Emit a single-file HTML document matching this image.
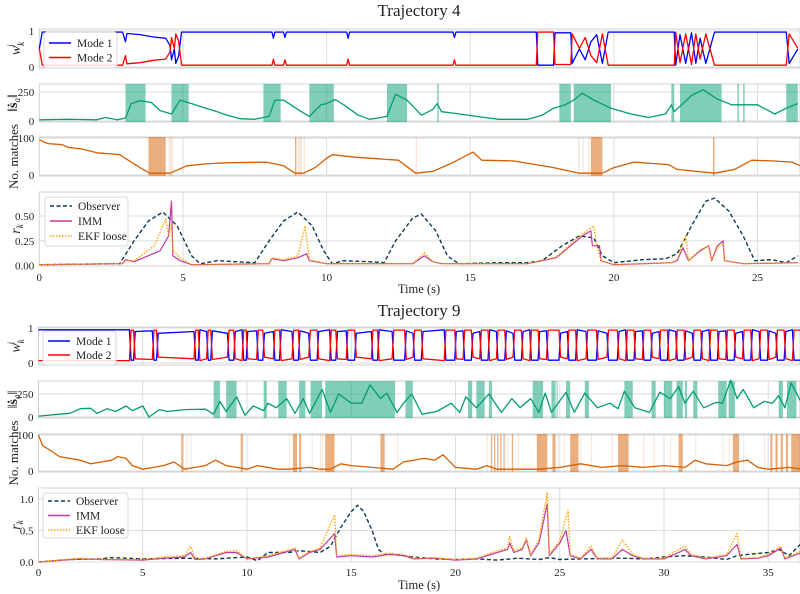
<!DOCTYPE html>
<html><head><meta charset="utf-8"><style>
html,body{margin:0;padding:0;background:#fff;}
svg{display:block;font-family:"Liberation Serif",serif;}
</style></head><body>
<svg id="fig" width="800" height="594" viewBox="0 0 800 594"></svg>
<script>
// ---------- Trajectory 4 data ----------
const t4W1T=[0,0.1,2.9,3.0,3.05,3.5,4.0,4.4,4.55,4.6,4.7,4.75,4.85,4.95,8.1,8.15,8.2,8.5,8.55,8.6,10.7,10.75,10.8,14.4,14.45,14.5,17.3,17.35,17.9,17.95,18.5,18.55,18.8,19.0,19.2,19.4,19.6,19.8,22.1,22.15,22.3,22.5,22.7,22.85,23.0,23.2,23.5,26.0,26.1,26.4];
const t4W1V=[0.5,0.97,0.97,0.7,0.93,0.9,0.83,0.8,0.6,0.2,0.5,0.1,0.3,0.97,0.97,0.8,0.97,0.97,0.82,0.97,0.97,0.8,0.97,0.97,0.82,0.97,0.97,0.05,0.05,0.95,0.95,0.1,0.5,0.2,0.7,0.9,0.1,0.97,0.97,0.05,0.9,0.1,0.95,0.1,0.8,0.1,0.97,0.97,0.1,0.5];
const t4ST=[0,1,2,2.3,2.7,3.0,3.2,3.5,3.9,4.2,4.6,4.9,5.3,5.8,6.2,6.4,7.0,7.5,8.0,8.2,8.5,9.0,9.4,9.8,10.0,10.3,10.6,11.1,11.5,12.1,12.4,12.8,13.3,13.7,13.85,14.0,14.5,15.5,16.0,17.0,17.5,17.9,18.3,18.6,18.9,19.3,19.9,20.6,21.2,21.8,22.0,22.1,22.7,23.1,23.6,24.1,25.0,25.6,26.0,26.4];
const t4SV=[10,15,10,30,10,25,150,175,160,90,60,180,150,110,80,60,20,15,40,180,180,100,40,140,150,185,140,50,15,40,230,180,50,100,150,80,65,30,15,15,50,110,140,180,240,180,110,60,30,60,140,80,220,270,190,140,140,60,110,150];
const t4GreenS=[3.0,4.6,7.8,9.4,12.1,13.85,18.1,18.6,22.0,22.3,24.3,24.5,26.0];
const t4GreenE=[3.7,5.2,8.4,10.25,12.8,13.9,18.5,19.9,22.1,23.75,24.35,24.55,26.4];
const t4MT=[0,0.3,0.8,1,1.5,2,2.5,2.8,3.2,3.5,3.85,4.55,5.13,5.8,6.5,7.9,8.5,8.9,9.2,9.6,10,10.2,11,12.5,13.1,13.7,14.3,15.1,15.4,16.5,17.9,18.8,19.6,20.0,20.7,21.9,22.2,23.5,24.2,24.8,25.5,26.2,26.5];
const t4MV=[95,85,82,75,70,60,57,55,35,20,5,5,25,30,33,35,25,5,5,20,45,55,48,40,5,10,30,62,40,38,20,5,5,20,35,28,15,5,15,40,38,35,25];
const t4DarkS=[3.8,8.9,19.2,23.45];
const t4DarkE=[4.4,8.95,19.6,23.5];
const t4LightT=[4.5,4.55,4.6,9.0,9.05,9.1,9.2,13.1,18.75,18.9,19.1];
const t4ObsT=[0,2.8,3.3,3.8,4.3,4.8,5.3,5.6,6.2,6.8,7.5,8.0,8.5,9.0,9.5,9.9,10.2,10.6,11.5,12.0,12.4,13.0,13.3,13.8,14.2,14.6,16,17,17.5,18.2,18.8,19.3,19.6,20,21,21.8,22.2,22.7,23.2,23.5,24,24.5,24.9,25.5,26,26.4];
const t4ObsV=[0.01,0.02,0.25,0.45,0.54,0.4,0.1,0.02,0.05,0.04,0.03,0.25,0.45,0.54,0.4,0.15,0.02,0.05,0.04,0.03,0.25,0.48,0.52,0.35,0.1,0.02,0.03,0.03,0.05,0.2,0.3,0.28,0.1,0.03,0.06,0.07,0.12,0.4,0.65,0.68,0.55,0.3,0.05,0.06,0.03,0.1];
const t4ImmT=[0,2.9,3.0,3.3,4.2,4.5,4.6,4.65,4.9,5.3,8,8.1,8.5,9.0,9.3,9.4,10,13.0,13.4,13.7,14,17,18,18.9,19.2,19.25,19.5,19.55,20,22,22.2,22.4,22.6,23.0,23.3,23.4,23.6,23.8,23.85,24.5,26.4];
const t4ImmV=[0.01,0.02,0.06,0.04,0.15,0.3,0.65,0.1,0.05,0.01,0.02,0.07,0.05,0.08,0.12,0.05,0.02,0.02,0.1,0.04,0.02,0.02,0.08,0.3,0.35,0.2,0.2,0.05,0.01,0.03,0.05,0.18,0.05,0.15,0.2,0.05,0.2,0.25,0.05,0.02,0.03];
const t4EkfT=[0,2.9,3.0,3.3,4.0,4.4,4.5,4.6,4.65,4.9,5.3,8,8.1,8.5,9.0,9.25,9.4,10,13.0,13.4,13.7,14,17,18,18.9,19.3,19.4,19.55,20,22,22.2,22.5,22.6,23.0,23.3,23.4,23.6,23.8,23.85,24.5,26.4];
const t4EkfV=[0.01,0.02,0.05,0.05,0.2,0.47,0.3,0.42,0.15,0.08,0.01,0.02,0.08,0.06,0.1,0.4,0.06,0.02,0.02,0.13,0.04,0.02,0.02,0.09,0.32,0.4,0.2,0.05,0.01,0.03,0.06,0.3,0.05,0.16,0.2,0.05,0.18,0.22,0.05,0.02,0.03];
// ---------- Trajectory 9 data ----------
const t9Toggle=[4.4,4.6,5.5,5.7,7.5,7.7,8.1,8.3,9.1,9.4,9.8,10.0,10.5,10.8,11.3,11.6,12.2,12.5,13.0,13.4,14.0,14.3,14.8,15.2,16.0,16.3,17.0,17.6,18.0,18.4,19.5,20.0,20.4,20.8,21.2,21.6,22.0,22.4,22.8,23.2,23.6,24.0,24.4,25.0,25.4,25.8,26.3,26.8,27.3,27.8,28.2,28.6,29.0,29.4,29.8,30.2,30.6,31.0,31.4,31.8,32.2,32.6,33.0,33.4,33.8,34.2,34.6,35.0,35.4,35.8,36.2];
const t9High=[0.95,0.9,0.92,0.85,0.9];
const t9ST=[0,1,1.5,2.0,2.5,2.8,3.3,3.7,4.2,4.5,5.0,5.3,5.8,6.2,7,8.0,8.4,8.7,9.0,9.5,9.9,10.3,10.8,11.0,11.4,11.9,12.3,12.7,13.0,13.6,14.0,14.4,15.0,15.5,15.9,16.4,16.7,17.2,17.5,17.9,18.4,19.1,19.8,20.2,20.5,21,21.6,22.2,22.7,23.1,23.6,24.0,24.3,24.6,25.3,25.7,26.2,26.8,27.4,27.8,28.1,28.6,29.3,29.8,30.3,30.7,31.0,31.4,31.9,32.5,32.8,33.2,33.5,33.8,34.3,34.8,35.2,35.5,35.8,36.1,36.6];
const t9SV=[10,30,40,90,95,40,90,60,120,70,120,0,80,60,80,85,30,170,60,220,20,120,70,150,100,200,40,200,40,300,50,250,150,150,350,200,260,50,150,250,30,60,150,50,220,100,250,50,200,100,200,50,260,50,270,50,260,100,150,90,280,100,50,270,200,330,150,280,100,160,150,400,200,300,100,170,150,230,100,370,150];
const t9GreenS=[8.4,9.0,10.8,11.5,12.5,13.05,13.75,17.6,20.6,21.0,21.6,23.7,24.6,24.85,25.3,26.2,28.1,29.4,30.0,30.6,31.0,31.4,32.6,33.1,35.5,35.9];
const t9GreenE=[8.7,9.5,10.95,11.9,12.8,13.6,17.1,17.95,20.8,21.4,21.75,24.2,24.8,24.9,25.5,26.4,28.5,29.6,30.4,30.9,31.1,31.6,33.0,33.4,35.7,36.35];
const t9MT=[0,0.2,0.5,1,2,2.5,3,3.5,3.8,4.2,4.5,5,5.5,6,6.5,7,7.5,8,8.5,9,9.5,10,10.5,11,11.5,12,13,13.5,14,14.5,15,16,17,17.5,18.5,19,19.4,20,21,21.5,22,23,24,25,26,27,28,29,30,31,31.5,32,33,33.5,34,34.5,35,36,36.6];
const t9MV=[100,70,60,40,30,20,25,30,40,35,15,5,10,15,25,5,10,15,30,15,10,5,15,10,5,5,10,5,5,20,15,10,5,25,35,30,45,10,5,15,5,5,5,10,20,10,15,10,15,10,30,20,15,25,30,10,5,10,5];
const t9DarkS=[6.85,9.7,12.2,12.5,13.75,16.4,21.7,21.85,22.0,22.15,22.3,22.7,23.9,24.65,25.5,27.8,30.7,33.3,35.1,35.35,35.6,35.85,36.1];
const t9DarkE=[6.95,9.8,12.4,12.6,14.2,16.6,21.76,21.91,22.06,22.21,22.36,22.76,24.4,24.8,25.9,28.3,30.9,33.6,35.2,35.45,35.7,35.95,36.6];
const t9LightT=[7.1,7.3,12.0,13.1,13.5,13.6,17.2,21.5,22.5,23.0,24.9,25.2,26.0,26.5,27.5,29.0,29.5,30.3,31.5,32.8,33.1,33.8,34.8];
const t9ObsT=[0,1.5,3,3.5,5,7,8.5,10,10.5,11,12,12.5,13.5,14,14.5,15,15.3,15.6,16.0,16.3,16.6,17,18,19,20,21,22,23,24,24.5,25,26,28,29,30,31,32,33,33.5,34,35,35.5,36,36.6];
const t9ObsV=[0,0.04,0.05,0.07,0.05,0.06,0.05,0.08,0.02,0.15,0.15,0.18,0.15,0.25,0.55,0.8,0.9,0.8,0.5,0.2,0.12,0.12,0.08,0.05,0.04,0.05,0.03,0.06,0.04,0.07,0.04,0.05,0.06,0.05,0.08,0.1,0.08,0.04,0.1,0.12,0.15,0.2,0.1,0.3];
const t9ImmT=[0,2,3,5,6,7,7.3,7.5,8,9,9.5,10,11,12.3,12.5,13,13.5,14.2,14.3,15,16,16.8,17.5,18,19,20,21,22,22.5,22.6,22.8,23.2,23.4,23.6,24.0,24.4,24.5,25,25.3,25.5,26,26.5,26.8,27.5,28,28.5,29,30,30.7,31,31.3,32,33,33.5,33.7,34.5,35,35.6,35.8,36.6];
const t9ImmV=[0,0.05,0.04,0.03,0.06,0.08,0.15,0.04,0.05,0.15,0.15,0.05,0.08,0.2,0.05,0.15,0.2,0.45,0.08,0.1,0.08,0.12,0.1,0.05,0.06,0.03,0.05,0.15,0.2,0.3,0.15,0.2,0.35,0.1,0.3,0.92,0.1,0.3,0.5,0.1,0.05,0.2,0.05,0.05,0.2,0.1,0.05,0.05,0.15,0.2,0.1,0.05,0.1,0.28,0.05,0.06,0.1,0.22,0.05,0.15];
const t9EkfT=[0,2,3,5,6,7,7.3,7.5,8,9,9.5,10,11,12.3,12.5,13,13.5,14.2,14.3,15,16,16.8,17.5,18,19,20,21,22,22.5,22.6,22.8,23.2,23.4,23.6,24.0,24.4,24.5,25,25.4,25.5,26,26.5,26.8,27.5,28,28.5,29,30,30.7,31,31.3,32,33,33.5,33.7,34.5,35,35.6,35.8,36.6];
const t9EkfV=[0,0.06,0.04,0.04,0.08,0.1,0.25,0.05,0.06,0.17,0.18,0.05,0.1,0.22,0.06,0.17,0.22,0.75,0.1,0.12,0.1,0.14,0.12,0.06,0.07,0.04,0.06,0.18,0.22,0.4,0.18,0.22,0.38,0.12,0.35,1.1,0.12,0.35,0.82,0.12,0.06,0.25,0.06,0.06,0.35,0.12,0.06,0.06,0.2,0.25,0.12,0.06,0.12,0.45,0.06,0.07,0.12,0.25,0.06,0.18];
const t4XTicks=[0,5,10,15,20,25];
const t9XTicks=[0,5,10,15,20,25,30,35];

const NS='http://www.w3.org/2000/svg';
const svg=document.getElementById('fig');
function mk(tag,attrs,parent){const e=document.createElementNS(NS,tag);for(const k in attrs)e.setAttribute(k,attrs[k]);(parent||svg).appendChild(e);return e;}
function txt(s,x,y,size,anchor,parent,extra){const e=mk('text',Object.assign({x:x,y:y,'font-size':size,'text-anchor':anchor||'middle',fill:'#222'},extra||{}),parent);e.textContent=s;return e;}
function pathD(T,V,sx,sy){let d='';for(let i=0;i<T.length;i++){d+=(i?'L':'M')+sx(T[i]).toFixed(1)+','+sy(V[i]).toFixed(1);}return d;}

function figure(cfg){
  const sx=t=>cfg.x0+t*cfg.xs;
  const xR=800;
  const g=mk('g',{});
  
  
  const ti=txt(cfg.title,419,cfg.titleY,17,'middle',g);
  
  
  cfg.panels.forEach(p=>{
    const pg=mk('g',{},g);
    
    
    const sy=v=>p.y0+(v-p.v0)*(p.y1-p.y0)/(p.v1-p.v0);
    mk('rect',{x:cfg.x0,y:p.top,width:xR-cfg.x0,height:p.bot-p.top,fill:'#fff',stroke:'#d0d0d0','stroke-width':1},pg);
    cfg.xticks.forEach(t=>{if(t>0)mk('line',{x1:sx(t),x2:sx(t),y1:p.top,y2:p.bot,stroke:'#dcdcdc','stroke-width':1},pg);});
    p.yticks.forEach((v,i)=>{
      mk('line',{x1:cfg.x0,x2:xR,y1:sy(v),y2:sy(v),stroke:'#dcdcdc','stroke-width':1},pg);
      const tl=txt(p.ylabels[i],cfg.x0-5,sy(v)+4,11,'end',pg);
      
      
    });
    const yl=mk('text',{x:0,y:0,'font-size':p.ylsize||13,'text-anchor':'middle',fill:'#222',transform:`translate(${p.ylx},${(p.top+p.bot)/2}) rotate(-90)`},pg);
    yl.innerHTML=p.ylabel;
    
    
    p.draw(pg,sx,sy);
    if(p.legend){
      const L=p.legend;
      const lg=mk('g',{},pg);
      
      
      mk('rect',{x:L.x,y:L.y,width:L.w,height:L.h,rx:3,fill:'rgba(255,255,255,0.85)',stroke:'#d8d8d8'},lg);
      L.items.forEach((it,i)=>{
        const yy=L.y+L.first+i*L.step;
        const ln=mk('line',{x1:L.x+5,x2:L.x+27,y1:yy,y2:yy,stroke:it.c,'stroke-width':1.5,'stroke-dasharray':it.dash||'none'},lg);
        
        
        const lt=txt(it.l,L.x+33,yy+4,11.5,'start',lg);
        
        
      });
    }
  });
  cfg.xticks.forEach(t=>{
    const e=txt(String(t),sx(t),cfg.tickY,11,'middle',g);
    
    
  });
  const xt=txt('Time (s)',419,cfg.timeY,12.5,'middle',g);
  
  
}
function bands(pg,sx,p,S,E,fill,name){
  for(let i=0;i<S.length;i++){
    const r=mk('rect',{x:sx(S[i]),y:p.top,width:Math.max(1,sx(E[i])-sx(S[i])),height:p.bot-p.top,fill:fill},pg);
    
    
  }
}
function line(pg,T,V,sx,sy,c,w,dash,name){
  const e=mk('path',{d:pathD(T,V,sx,sy),fill:'none',stroke:c,'stroke-width':w,'stroke-dasharray':dash||'none','stroke-linejoin':'round'},pg);
  
  
}
function modePanel(T,V){
  return function(pg,sx,sy){
    line(pg,T,V,sx,sy,'#0000ff',1.3,null,'mode-1-line');
    line(pg,T,V.map(v=>1-v+0.02),sx,sy,'#ff0000',1.3,null,'mode-2-line');
  };
}
// build toggle series for trajectory 9
const t9T=[0],t9V=[t9High[0]];
let hi=true;
t9Toggle.forEach((t,i)=>{const cur=hi?t9High[i%t9High.length]:0.08;hi=!hi;const nxt=hi?t9High[i%t9High.length]:0.08;t9T.push(t-0.04,t+0.04);t9V.push(cur,nxt);});
t9T.push(36.6);t9V.push(t9V[t9V.length-1]);

const GREEN='#029e73',ORANGE='#d55e00';
function panels(geom,d){
  return [
   {name:'mode-weight-panel',top:geom.w[0],bot:geom.w[1],y0:geom.w[2],y1:geom.w[3],v0:1,v1:0,yticks:[0,1],ylabels:['0','1'],ylx:20,ylsize:14,
    ylabel:'<tspan font-style="italic">w</tspan><tspan font-style="italic" font-size="9" dy="4">k</tspan><tspan font-style="italic" font-size="9" dy="-10" dx="-5">i</tspan>',
    draw:modePanel(d.wT,d.wV),legend:Object.assign({items:[{l:'Mode 1',c:'#0000ff'},{l:'Mode 2',c:'#ff0000'}]},geom.wl)},
   {name:'acceleration-norm-panel',top:geom.s[0],bot:geom.s[1],y0:geom.s[2],y1:geom.s[3],v0:250,v1:0,yticks:[0,250],ylabels:['0','250'],ylx:17,ylsize:14,
    ylabel:'‖<tspan font-weight="bold">ṡ</tspan><tspan font-style="italic" font-size="9" dy="3">a</tspan><tspan dy="-3">‖</tspan>',
    draw:(pg,sx,sy)=>{bands(pg,sx,{top:geom.s[0],bot:geom.s[1]},d.gS,d.gE,'rgba(2,158,115,0.5)','high-accel-band');line(pg,d.sT,d.sV,sx,sy,GREEN,1.3,null,'accel-norm-line');}},
   {name:'matches-panel',top:geom.m[0],bot:geom.m[1],y0:geom.m[2],y1:geom.m[3],v0:100,v1:0,yticks:[0,100],ylabels:['0','100'],ylx:18,ylabel:'No. matches',
    draw:(pg,sx,sy)=>{const pp={top:geom.m[0],bot:geom.m[1]};bands(pg,sx,pp,d.lT,d.lT.map(t=>t+0.05),'rgba(213,94,0,0.15)','low-match-line');bands(pg,sx,pp,d.dS,d.dE,'rgba(213,94,0,0.5)','low-match-band');line(pg,d.mT,d.mV,sx,sy,ORANGE,1.3,null,'matches-line');}},
   {name:'residual-panel',top:geom.r[0],bot:geom.r[1],y0:geom.r[2],y1:geom.r[3],v0:geom.r[4],v1:0,yticks:geom.rt,ylabels:geom.rl,ylx:20,ylsize:14,
    ylabel:'<tspan font-style="italic">r</tspan><tspan font-style="italic" font-size="9" dy="3">k</tspan>',
    draw:(pg,sx,sy)=>{line(pg,d.oT,d.oV,sx,sy,'#0b3a53',1.4,'4,2.5','observer-line');line(pg,d.iT,d.iV,sx,sy,'#c1399f',1.2,null,'imm-line');line(pg,d.eT,d.eV,sx,sy,'#ffa500',1.4,'1.5,1.5','ekf-loose-line');},
    legend:Object.assign({items:[{l:'Observer',c:'#0b3a53',dash:'4,2.5'},{l:'IMM',c:'#c1399f'},{l:'EKF loose',c:'#ffa500',dash:'1.5,1.5'}]},geom.rlg)}
  ];
}
figure({name:'trajectory-4-figure',title:'Trajectory 4',titleY:16,x0:39.3,xs:28.73,xticks:t4XTicks,tickY:281,timeY:293,
  panels:panels({w:[29,68,31,67],s:[84,122,92,121],m:[137,176,138,175],r:[192,266,216,265.7,0.5],rt:[0,0.25,0.5],rl:['0.00','0.25','0.50'],
    wl:{x:44,y:32,w:73,h:36,first:11,step:14.5},rlg:{x:45,y:197,w:83,h:49,first:9,step:15}},
   {wT:t4W1T,wV:t4W1V,sT:t4ST,sV:t4SV,gS:t4GreenS,gE:t4GreenE,mT:t4MT,mV:t4MV,dS:t4DarkS,dE:t4DarkE,lT:t4LightT,oT:t4ObsT,oV:t4ObsV,iT:t4ImmT,iV:t4ImmV,eT:t4EkfT,eV:t4EkfV})});
figure({name:'trajectory-9-figure',title:'Trajectory 9',titleY:316,x0:38.5,xs:20.85,xticks:t9XTicks,tickY:576,timeY:589,
  panels:panels({w:[327,365,328,363],s:[381,418,394,417],m:[434,472,435,471],r:[488,562,499,562,1.0],rt:[0,0.5,1.0],rl:['0.0','0.5','1.0'],
    wl:{x:43,y:331,w:73,h:34,first:10,step:14},rlg:{x:43,y:493,w:85,h:45,first:8,step:14.5}},
   {wT:t9T,wV:t9V,sT:t9ST,sV:t9SV,gS:t9GreenS,gE:t9GreenE,mT:t9MT,mV:t9MV,dS:t9DarkS,dE:t9DarkE,lT:t9LightT,oT:t9ObsT,oV:t9ObsV,iT:t9ImmT,iV:t9ImmV,eT:t9EkfT,eV:t9EkfV})});
</script>
</body></html>
